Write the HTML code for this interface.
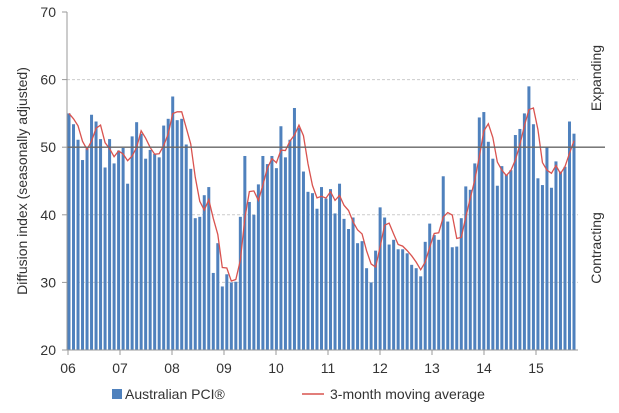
<!DOCTYPE html>
<html><head><meta charset="utf-8"><style>
body{margin:0;background:#fff;width:619px;height:408px;overflow:hidden;font-family:"Liberation Sans",sans-serif}
</style></head><body>
<svg id="s" width="619" height="408" xmlns="http://www.w3.org/2000/svg" font-family="Liberation Sans, sans-serif" font-size="14" fill="#333">
<g stroke="#ccc" stroke-dasharray="3,2">
<line x1="67" y1="79.6" x2="578" y2="79.6"/>
<line x1="67" y1="214.8" x2="578" y2="214.8"/>
<line x1="67" y1="282.4" x2="578" y2="282.4"/>
</g>
<g id="bars" fill="#4f81bd"></g>
<polyline id="ma" fill="none" stroke="#d9534f" stroke-width="1.3" points=""/>
<line x1="67" y1="147.2" x2="605" y2="147.2" stroke="#666" stroke-width="1.3"/>
<line x1="67" y1="12" x2="67" y2="350" stroke="#999"/>
<line x1="67" y1="350" x2="578" y2="350" stroke="#999"/>
<g stroke="#999">
<line x1="62" y1="12" x2="67" y2="12"/><line x1="62" y1="79.6" x2="67" y2="79.6"/><line x1="62" y1="147.2" x2="67" y2="147.2"/><line x1="62" y1="214.8" x2="67" y2="214.8"/><line x1="62" y1="282.4" x2="67" y2="282.4"/><line x1="62" y1="350" x2="67" y2="350"/>
</g>
<g text-anchor="end">
<text x="56" y="17">70</text><text x="56" y="84.6">60</text><text x="56" y="152.2">50</text><text x="56" y="219.8">40</text><text x="56" y="287.4">30</text><text x="56" y="355">20</text>
</g>
<g id="xl" text-anchor="middle"></g>
<text transform="translate(27,181) rotate(-90)" text-anchor="middle">Diffusion index (seasonally adjusted)</text>
<text transform="translate(601,78) rotate(-90)" text-anchor="middle">Expanding</text>
<text transform="translate(601,248) rotate(-90)" text-anchor="middle">Contracting</text>
<rect x="112" y="389" width="10" height="10" fill="#4f81bd"/>
<text x="125" y="399">Australian PCI®</text>
<line x1="302" y1="394" x2="324" y2="394" stroke="#d9534f" stroke-width="1.5"/>
<text x="330" y="399">3-month moving average</text>
</svg>
<script>
var v=[55,53.4,51.1,48.1,49.8,54.8,53.8,51.2,47,51.2,47.6,49.5,49.9,44.6,51.6,53.7,52,48.3,49.6,49,48.5,53.2,54.2,57.5,54,54.2,50.4,46.8,39.5,39.7,42.9,44.1,31.4,35.8,29.4,31.2,30,30.1,39.7,48.7,41.9,40,44.5,48.7,47.5,48.7,46.9,53.1,48.5,51.1,55.8,52.9,46.4,43.4,43.2,40.9,44.1,42.4,43.8,40.2,44.6,39.4,37.9,39.6,35.8,36.1,32.1,30,34.7,41.1,39.6,35.6,36.3,34.9,34.9,34.3,32.6,32.1,30.9,36,38.7,37,36.3,45.7,39,35.2,35.3,39.5,44.2,43.7,47.6,54.4,55.2,50.8,48.3,44.3,47.2,45.9,46.6,51.8,52.7,55,59,53.4,45.4,44.4,50,44,47.9,46.4,47.1,53.8,52];
var n=v.length,x0=69,x1=574,dx=(x1-x0)/(n-1),Y=function(a){return 12+(70-a)*6.76};
var b='',p=[];
for(var i=0;i<n;i++){var x=x0+i*dx;b+='<rect x="'+(x-1.5).toFixed(2)+'" y="'+Y(v[i]).toFixed(2)+'" width="3" height="'+(350-Y(v[i])).toFixed(2)+'"/>';
var s=0,c=0;for(var j=Math.max(0,i-2);j<=i;j++){s+=v[j];c++}p.push(x.toFixed(2)+','+Y(s/c).toFixed(2));}
document.getElementById('bars').innerHTML=b;
document.getElementById('ma').setAttribute('points',p.join(' '));
var xl='';for(var k=0;k<10;k++){var xx=68+k*52;xl+='<line x1="'+xx+'" y1="350" x2="'+xx+'" y2="355" stroke="#999"/><text x="'+xx+'" y="373">'+('0'+(6+k)).slice(-2)+'</text>';}
document.getElementById('xl').innerHTML=xl;
</script>
</body></html>
